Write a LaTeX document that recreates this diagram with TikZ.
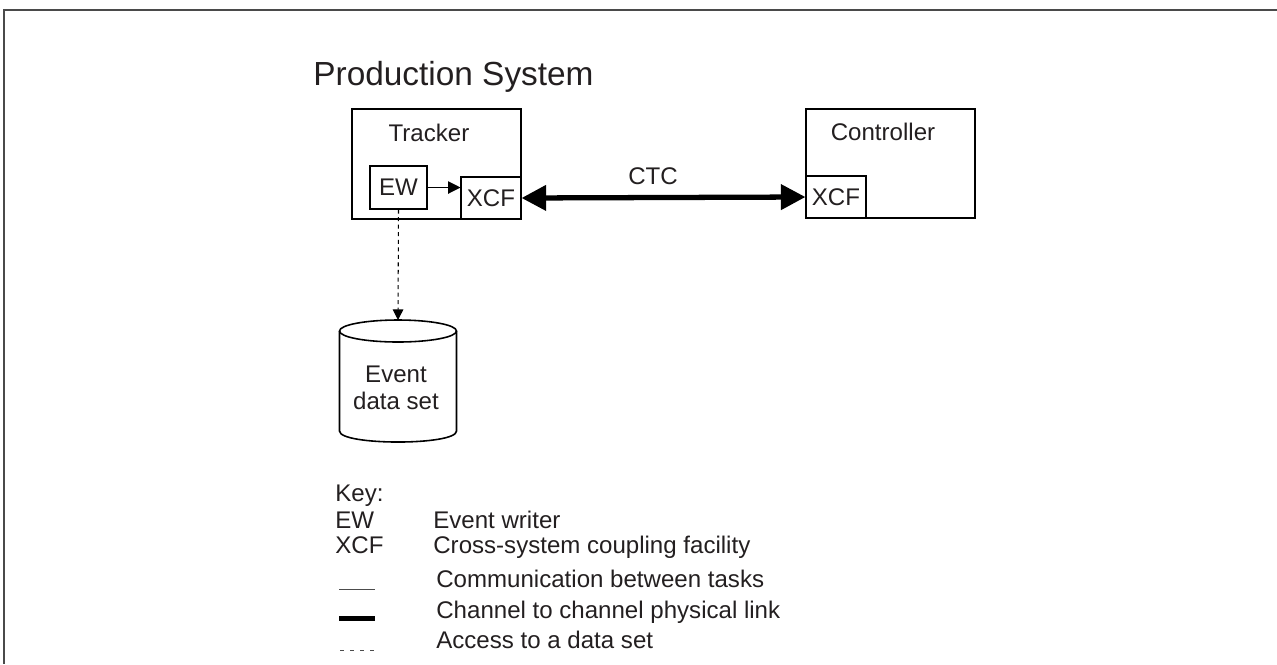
\documentclass[tikz,border=0pt]{standalone}
\usepackage{fontspec}
\setmainfont{Liberation Sans}
\usetikzlibrary{arrows.meta}
\definecolor{ink}{HTML}{231F20}
\definecolor{framegray}{HTML}{4A4A4A}
\begin{document}
\begin{tikzpicture}[x=0.02cm,y=-0.02cm,
  txt/.style={inner sep=0pt,text=ink,font=\fontsize{13.7pt}{15.7pt}\selectfont},
  bigbox/.style={draw=black,line width=1.3pt,inner sep=0pt},
  smallbox/.style={draw=black,line width=0.6pt,inner sep=0pt,text=ink,font=\fontsize{13.7pt}{15.7pt}\selectfont},
  ctclink/.style={line width=3pt,{Triangle[length=14pt,width=14pt]}-{Triangle[length=14pt,width=14pt]}},
  tasklink/.style={line width=0.6pt,-{Triangle[length=7pt,width=7pt]}},
  datalink/.style={line width=0.6pt,dash pattern=on 2.3pt off 2pt,-{Triangle[length=6pt,width=6pt]}}
]
\useasboundingbox (0,0) rectangle (1277,664);
% outer frame (top and left sides only)
\draw[framegray,line width=1.4pt] (1277,10) -- (4,10) -- (4,664);

\node[txt,anchor=base,font=\fontsize{19pt}{22pt}\selectfont] (title) at (453.5,85) {Production System};

% small boxes first, big boxes on top
\node[smallbox,minimum width=1.14cm,minimum height=0.86cm] (ew) at (398.5,187.5) {EW};
\node[smallbox,minimum width=1.2cm,minimum height=0.84cm] (xcfa) at (491,198) {XCF};
\node[smallbox,minimum width=1.2cm,minimum height=0.84cm] (xcfb) at (836,197) {XCF};
\node[bigbox,minimum width=3.38cm,minimum height=2.2cm] (tracker) at (436.5,164) {};
\node[bigbox,minimum width=3.38cm,minimum height=2.18cm] (controller) at (890.5,163.5) {};
\node[txt,anchor=base] (trackerlbl) at (429,141) {Tracker};
\node[txt,anchor=base] (controllerlbl) at (883,140) {Controller};

% connectors
\draw[tasklink] (ew.east) -- (ew.east -| xcfa.west);
\draw[ctclink] (xcfa.east) -- (xcfb.west);
\node[txt] (ctc) at (653,176) {CTC};

% data set cylinder
\coordinate (dstop) at (398,320);
\draw[line width=0.9pt] (339.5,331) -- (339.5,431)
  .. controls (339.5,445.7) and (456.5,445.7) .. (456.5,431) -- (456.5,331);
\draw[line width=0.9pt] (398,331) ellipse [x radius=1.17cm,y radius=0.22cm];
\node[txt,align=center] (dstext) at (396,388) {Event\\data set};
\draw[datalink] (ew.south) -- (dstop);

% key
\node[txt,anchor=base west] (key) at (335,501) {Key:};
\node[txt,anchor=base west] (kew) at (335,528) {EW};
\node[txt,anchor=base west] (kxcf) at (335,553) {XCF};
\node[txt,anchor=base west] (kewd) at (433,528) {Event writer};
\node[txt,anchor=base west] (kxcfd) at (433,553) {Cross-system coupling facility};
\node[txt,anchor=base west] (kcom) at (436,587) {Communication between tasks};
\node[txt,anchor=base west] (kcha) at (436,618) {Channel to channel physical link};
\node[txt,anchor=base west] (kacc) at (436,648) {Access to a data set};
\draw[line width=0.5pt,black!70] (339,589) -- (375,589);
\draw[line width=2.9pt] (339,618.5) -- (375,618.5);
\draw[line width=0.5pt,black!70,dash pattern=on 2.3pt off 3.4pt] (340,650) -- (375,650);
\end{tikzpicture}
\end{document}
